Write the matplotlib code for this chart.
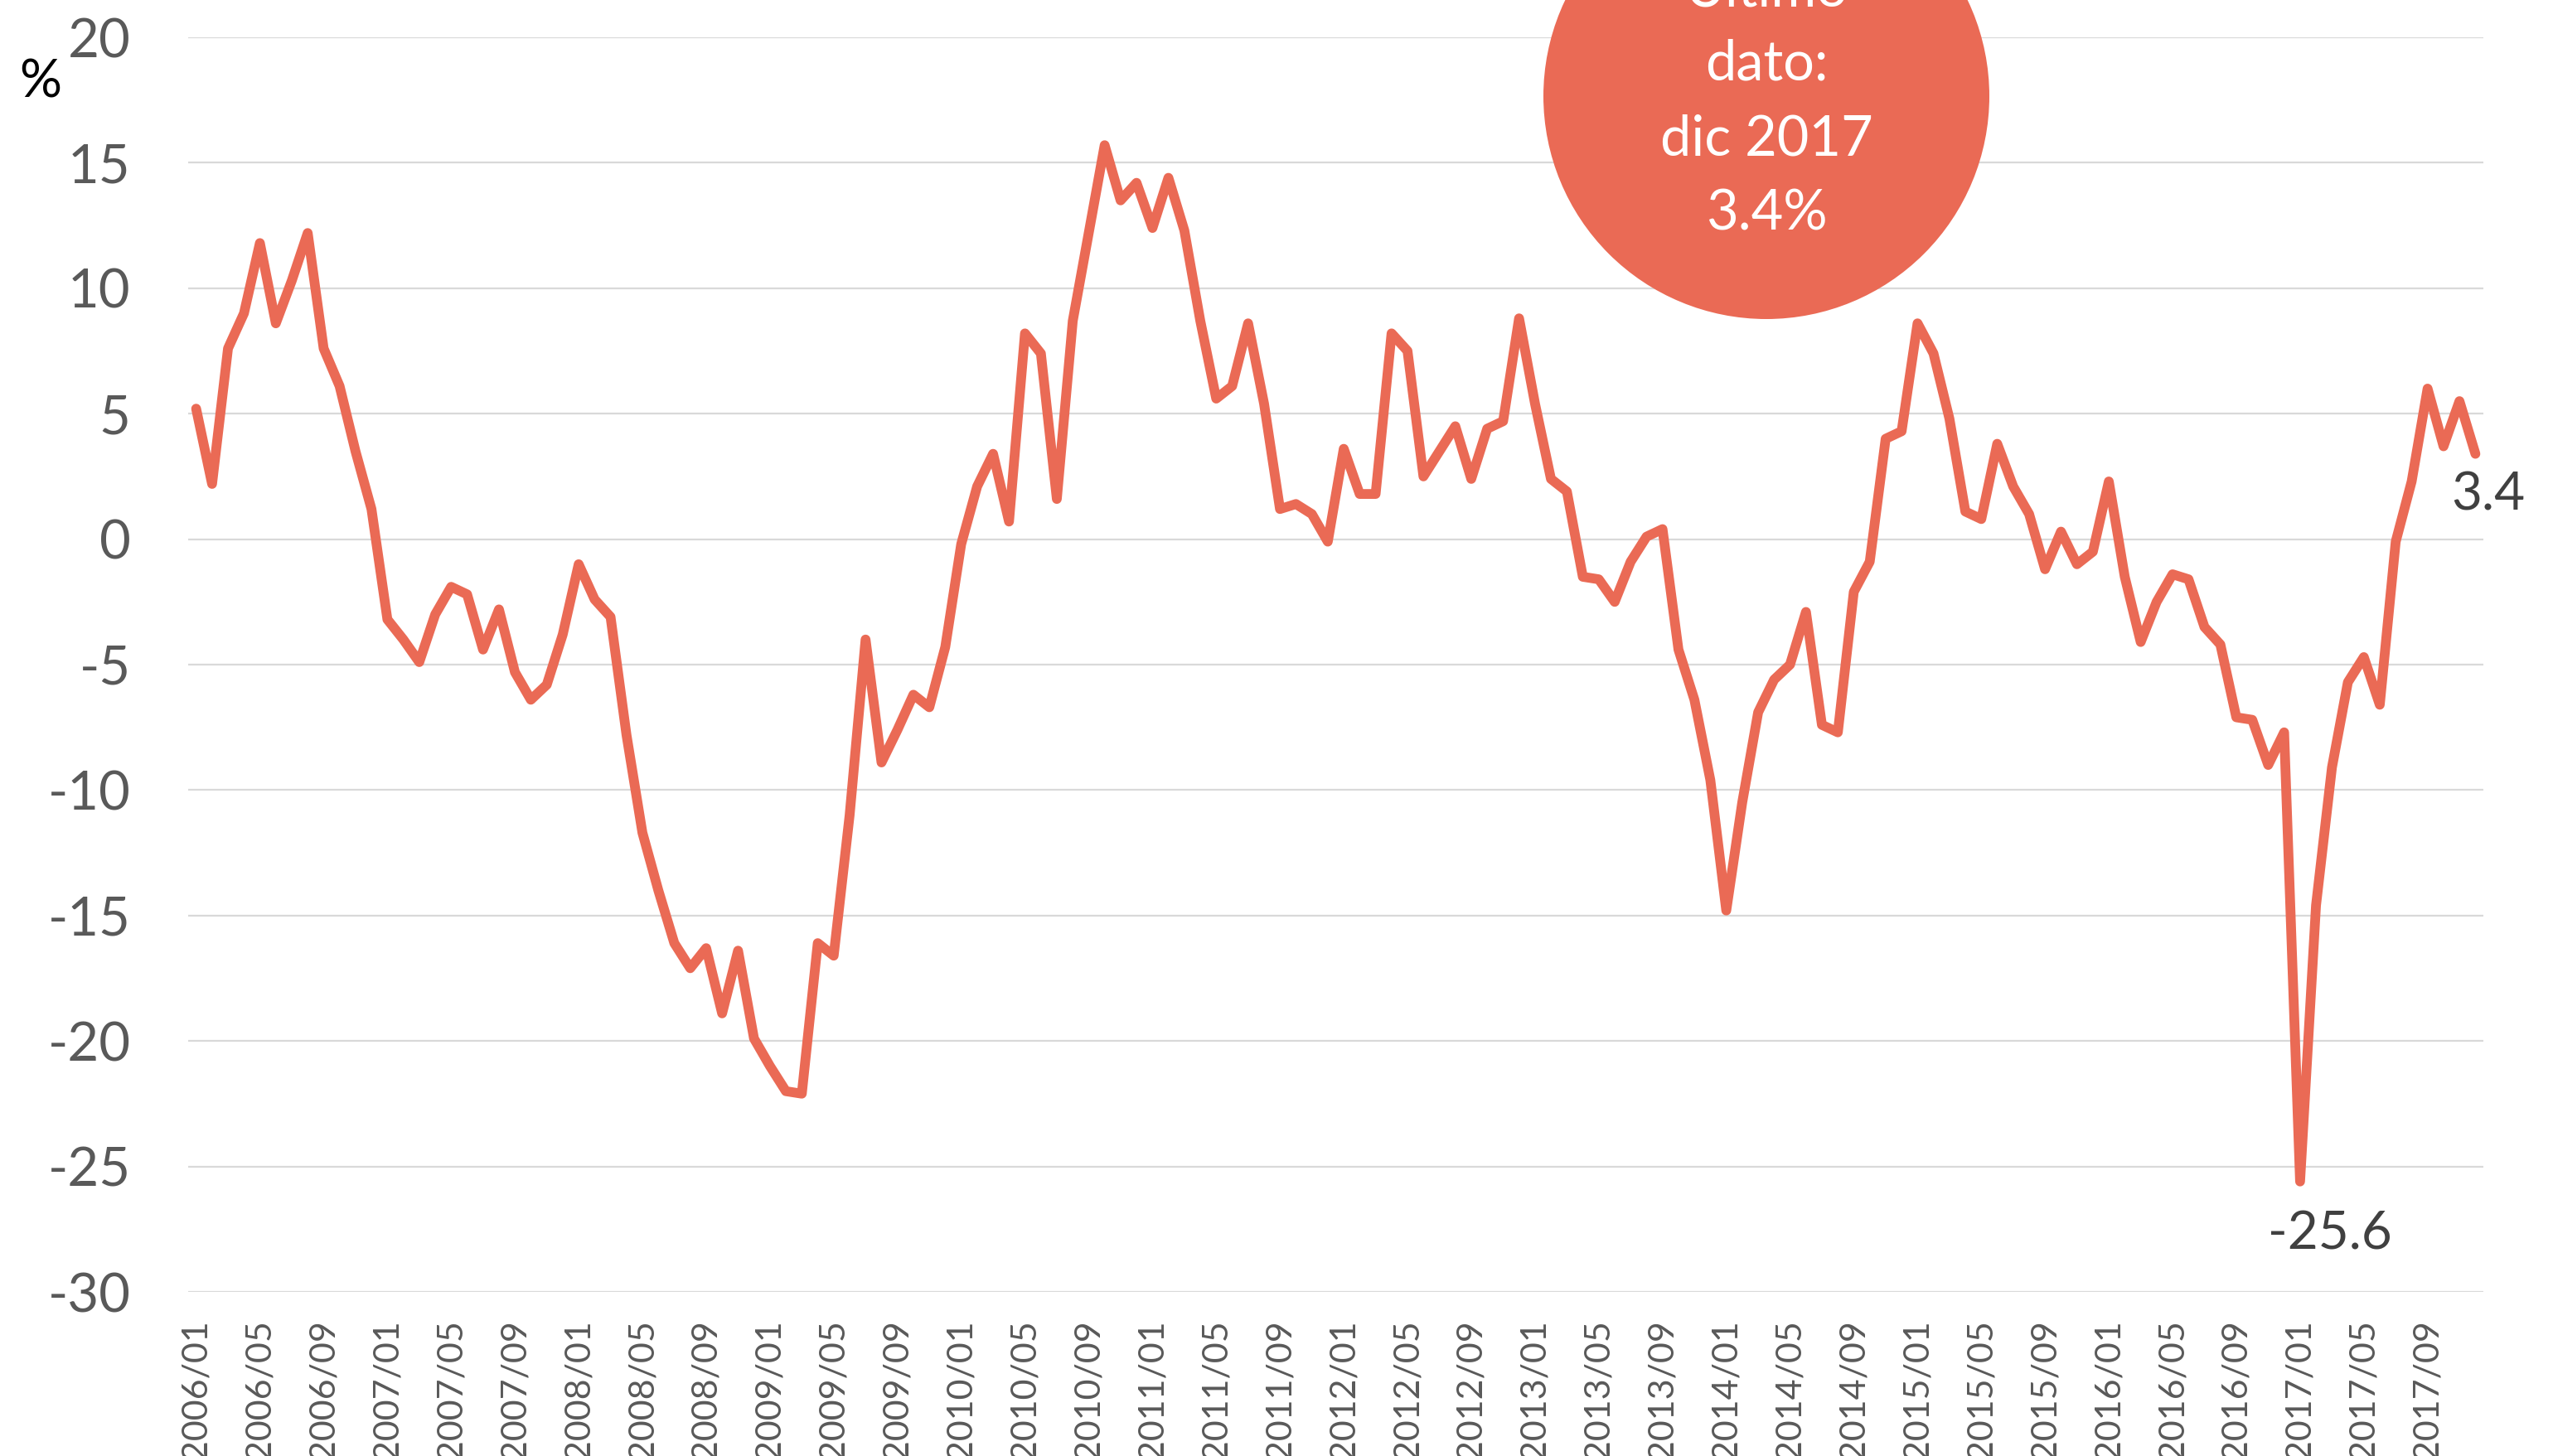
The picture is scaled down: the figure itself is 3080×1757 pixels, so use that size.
import matplotlib
matplotlib.use("Agg")
import matplotlib.pyplot as plt
from matplotlib.patches import Circle
from matplotlib.ticker import FixedLocator, FixedFormatter

plt.rcParams['font.family'] = ['Lato', 'DejaVu Sans']
plt.rcParams['axes.unicode_minus'] = False

# ---- data (monthly % change, 2006/01 .. 2017/12) ----
years = list(range(2006, 2018))
months = [f"{y}/{m:02d}" for y in years for m in range(1, 13)]

v2006 = [5.2, 2.2, 7.6, 9.0, 11.8, 8.6, 10.3, 12.2, 7.6, 6.1, 3.5, 1.2]
v2007 = [-3.2, -4.0, -4.9, -3.0, -1.9, -2.2, -4.4, -2.8, -5.3, -6.4, -5.8, -3.8]
v2008 = [-1.0, -2.4, -3.1, -7.8, -11.7, -14.0, -16.1, -17.1, -16.3, -18.9, -16.4, -19.9]
v2009 = [-21.0, -22.0, -22.1, -16.1, -16.6, -11.0, -4.0, -8.9, -7.6, -6.2, -6.7, -4.3]
v2010 = [-0.2, 2.1, 3.4, 0.7, 8.2, 7.4, 1.6, 8.7, 12.2, 15.7, 13.5, 14.2]
v2011 = [12.4, 14.4, 12.3, 8.7, 5.6, 6.1, 8.6, 5.4, 1.2, 1.4, 1.0, -0.1]
v2012 = [3.6, 1.8, 1.8, 8.2, 7.5, 2.5, 3.5, 4.5, 2.4, 4.4, 4.7, 8.8]
v2013 = [5.4, 2.4, 1.9, -1.5, -1.6, -2.5, -0.9, 0.1, 0.4, -4.4, -6.4, -9.6]
v2014 = [-14.8, -10.5, -6.9, -5.6, -5.0, -2.9, -7.4, -7.7, -2.1, -0.9, 4.0, 4.3]
v2015 = [8.6, 7.4, 4.8, 1.1, 0.8, 3.8, 2.1, 1.0, -1.2, 0.3, -1.0, -0.5]
v2016 = [2.3, -1.5, -4.1, -2.5, -1.4, -1.6, -3.5, -4.2, -7.1, -7.2, -9.0, -7.7]
v2017 = [-25.6, -14.6, -9.1, -5.7, -4.7, -6.6, -0.1, 2.3, 6.0, 3.7, 5.5, 3.4]

values = (v2006 + v2007 + v2008 + v2009 + v2010 + v2011 + v2012 + v2013
          + v2014 + v2015 + v2016 + v2017)

yticks = [-30, -25, -20, -15, -10, -5, 0, 5, 10, 15, 20]
ytick_labels = [str(t) for t in yticks]
xtick_step = 4

bubble_lines = ["Ultimo", "dato:", "dic 2017", "3.4%"]
min_label = "-25.6"
last_label = "3.4"

# ---- style ----
RED = "#EA6A55"
GRID = "#D9D9D9"
TICKC = "#595959"

fig = plt.figure(figsize=(30.8, 17.57), dpi=100)
ax = fig.add_axes([227/3080, 1 - 1559/1757, (2996-227)/3080, (1559-45)/1757])

x = list(range(len(values)))
ax.plot(x, values, color=RED, lw=8.5, solid_joinstyle='round',
        solid_capstyle='round', zorder=3)

ax.set_xlim(-0.5, len(values) - 0.5)
ax.set_ylim(-30, 20)

ax.yaxis.set_major_locator(FixedLocator(yticks))
ax.yaxis.set_major_formatter(FixedFormatter(ytick_labels))
xt = list(range(0, len(values), xtick_step))
ax.set_xticks(xt)
ax.set_xticklabels([months[i] for i in xt], rotation=90)

ax.tick_params(axis='y', length=0, pad=50, labelsize=47, labelcolor=TICKC)
ax.tick_params(axis='x', length=0, pad=24, labelsize=31, labelcolor=TICKC)

ax.grid(axis='y', color=GRID, lw=1.6, zorder=0)
ax.grid(axis='x', visible=False)
for s in ax.spines.values():
    s.set_visible(False)

# annotations
imin = values.index(min(values))
ax.annotate(min_label, (imin, values[imin]), xytext=(26, -46),
            textcoords='offset points', ha='center', va='center',
            fontsize=46, color="#404040")
ilast = len(values) - 1
ax.annotate(last_label, (ilast, values[ilast]), xytext=(11, -36),
            textcoords='offset points', ha='center', va='center',
            fontsize=46, color="#404040", annotation_clip=False)

# % label
fig.text(49/100, (1757 - 100)/100, "%", transform=fig.dpi_scale_trans,
         ha='center', va='center', fontsize=46, color='black')

# bubble
H = 17.57
circ = Circle((2131/100, H - 116/100), 269/100, transform=fig.dpi_scale_trans,
              facecolor=RED, edgecolor='none', zorder=10)
fig.add_artist(circ)
baselines = [7, 97, 187, 277]
for txt, b in zip(bubble_lines, baselines):
    fig.text(2131/100, H - b/100, txt, transform=fig.dpi_scale_trans,
             ha='center', va='baseline', fontsize=48, color='white', zorder=11)

fig.savefig("out.png", dpi=100)
